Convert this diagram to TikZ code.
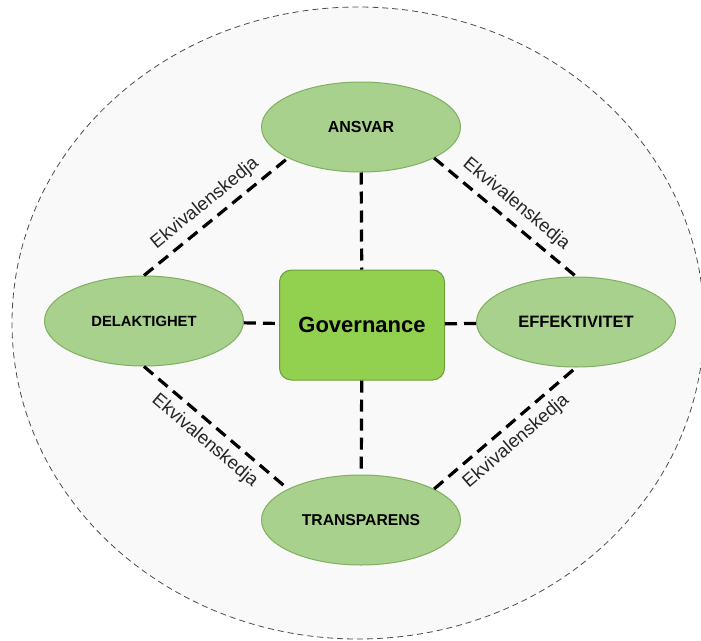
\documentclass[tikz,border=0pt]{standalone}
\usepackage{fontspec}
\setmainfont{Liberation Sans}
\usetikzlibrary{shapes.geometric}
\definecolor{ovalgreen}{HTML}{A9D18E}
\definecolor{ovalline}{HTML}{7FAF5F}
\definecolor{coregreen}{HTML}{92D050}
\definecolor{coreline}{HTML}{6E9E3A}
\definecolor{haze}{HTML}{F9F9F9}
\begin{document}
\begin{tikzpicture}[x=1pt,y=-1pt,
    value/.style={ellipse, draw=ovalline, fill=ovalgreen, line width=1pt,
      minimum width=199pt, minimum height=90pt, inner sep=0pt,
      font=\bfseries\fontsize{16}{19}\selectfont},
    link/.style={line width=3.2pt, dash pattern=on 12pt off 7pt},
    chain/.style={sloped, inner sep=2pt, text=black!85,
      font=\fontsize{18.5}{21}\selectfont}]
    \useasboundingbox (0,0) rectangle (701,640);

    \node[ellipse, draw=black!70, fill=haze, line width=0.8pt,
      dash pattern=on 6pt off 4pt, minimum width=692pt, minimum height=632pt]
      (frame) at (358,323) {};

    \node[value] (ansvar) at (361,127) {ANSVAR};
    \node[value] (delak) at (144,321) {\fontsize{14.8}{17}\selectfont DELAKTIGHET};
    \node[value] (effekt) at (576,322) {\fontsize{16.5}{19}\selectfont EFFEKTIVITET};
    \node[value] (transp) at (361,520) {\fontsize{15.7}{19}\selectfont TRANSPARENS};
    \node[draw=coreline, fill=coregreen, line width=1pt, rounded corners=12pt,
      minimum width=165pt, minimum height=110pt,
      font=\bfseries\fontsize{22}{25}\selectfont] (gov) at (362,325) {Governance};

    \draw[link] (ansvar) -- (gov);
    \draw[link] (delak) -- (gov);
    \draw[link] (gov) -- (effekt);
    \draw[link] (gov) -- (transp);

    \draw[link] (delak.north) -- node[chain, above=5pt] {Ekvivalenskedja} (ansvar.-157);
    \draw[link] (ansvar.-23) -- node[chain, above=5pt] {Ekvivalenskedja} (effekt.north);
    \draw[link] (delak.south) -- node[chain, below=5pt] {Ekvivalenskedja} (transp.157);
    \draw[link] (transp.23) -- node[chain, below=5pt] {Ekvivalenskedja} (effekt.south);
\end{tikzpicture}
\end{document}
